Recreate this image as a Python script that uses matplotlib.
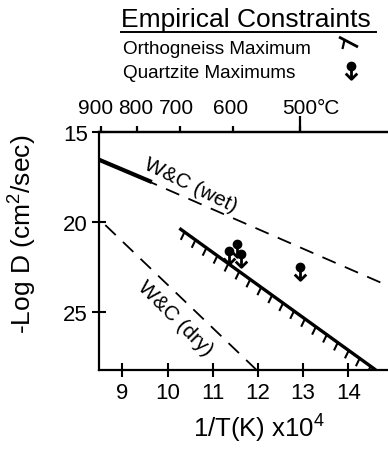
import matplotlib
matplotlib.use('Agg')
import numpy as np
import matplotlib.pyplot as plt
import matplotlib.patheffects as pe
import matplotlib.transforms as mtransforms
from matplotlib.path import Path
from matplotlib.lines import Line2D

plt.rcParams['font.family'] = ['Liberation Sans', 'DejaVu Sans']
plt.rcParams['mathtext.fontset'] = 'custom'
plt.rcParams['mathtext.rm'] = 'Liberation Sans'
plt.rcParams['mathtext.default'] = 'regular'

# ---------------- data ----------------
wet_x = [8.48, 14.88]
wet_y = [16.54, 23.54]
wet_solid_x = [8.48, 9.65]
wet_solid_y = [16.54, 17.78]
dry_x = [8.62, 11.97]
dry_y = [20.17, 28.22]
ortho_x = [10.26, 14.61]
ortho_y = [20.35, 28.22]
qtz_x = [11.35, 11.53, 11.63, 12.93]
qtz_y = [21.60, 21.20, 21.80, 22.50]

bottom_ticks = [9, 10, 11, 12, 13, 14]
left_ticks = [15, 20, 25]
top_ticks_c = [900, 800, 700, 600, 500]
top_labels = ['900', '800', '700', '600', '500']
long_tick_c = 500

# ---------------- figure ----------------
W, H = 388, 452
fig = plt.figure(figsize=(W / 100, H / 100), dpi=100)
ax = fig.add_axes([99 / W, (H - 371) / H, (W - 99) / W, (371 - 133) / H])
ax.set_xlim(8.48, 14.88)
ax.set_ylim(28.22, 15)

for s in ['left', 'bottom', 'top']:
    ax.spines[s].set_linewidth(1.6)
ax.spines['right'].set_visible(False)

ax.set_xticks(bottom_ticks)
ax.set_yticks(left_ticks)
ax.tick_params(axis='x', direction='inout', length=9.5, width=1.5, labelsize=16, pad=4)
ax.tick_params(axis='y', direction='inout', length=10, width=1.5, labelsize=16, pad=3)

def c2x(c):
    return 1e4 / (np.asarray(c, dtype=float) + 273.15)

# top temperature axis (°C) placed through 1/T conversion
top = ax.twiny()
top.set_xlim(ax.get_xlim())
top.set_xticks(c2x(top_ticks_c), top_labels)
top.tick_params(axis='x', direction='out', length=4.5, width=1.6, labelsize=15, pad=6.3,
                color='k')
for s in ['left', 'bottom', 'right']:
    top.spines[s].set_visible(False)
top.spines['top'].set_linewidth(1.6)
label_shift_px = {900: -5, 800: -1, 700: -4, 600: -3, 500: 0}
for c, lab in zip(top_ticks_c, top.xaxis.get_ticklabels()):
    off = mtransforms.ScaledTranslation(label_shift_px[c] / 100, 0, fig.dpi_scale_trans)
    lab.set_transform(lab.get_transform() + off)

# longer tick at 500 °C
x500 = float(c2x(long_tick_c))
top.plot([x500, x500], [1.0, 1.067], color='k', lw=1.6, transform=top.get_xaxis_transform(),
         clip_on=False, solid_capstyle='butt')
top.annotate('°C', xy=(x500, 1), xycoords=('data', 'axes fraction'),
             xytext=(12.2, 10.8), textcoords='offset points', ha='left', va='bottom',
             fontsize=15)

# ---------------- lines ----------------
dash = (0, (8, 5.5))
ax.plot(wet_x, wet_y, color='k', lw=1.3, linestyle=dash)
ax.plot(wet_solid_x, wet_solid_y, color='k', lw=3.0, solid_capstyle='butt')
ax.plot(dry_x, dry_y, color='k', lw=1.3, linestyle=dash)
ax.plot(ortho_x, ortho_y, color='k', lw=2.4, solid_capstyle='butt',
        path_effects=[pe.withTickedStroke(angle=-80, spacing=9.2, length=0.68, linewidth=1.5)])

# quartzite maximum symbols: ball + downward arrow
arrow_path = Path([(0, 0), (0, -1), (-0.45, -0.55), (0, -1), (0.45, -0.55)],
                  [Path.MOVETO, Path.LINETO, Path.MOVETO, Path.LINETO, Path.LINETO])
ax.plot(qtz_x, qtz_y, linestyle='none', marker=arrow_path, markersize=18.5,
        markeredgewidth=2.0, markerfacecolor='none', markeredgecolor='k')
ax.plot(qtz_x, qtz_y, linestyle='none', marker='o', markersize=6,
        markerfacecolor='k', markeredgecolor='k')

# labels on lines
ax.text(10.50, 17.90, 'W&C (wet)', rotation=-26, rotation_mode='anchor',
        ha='center', va='center', fontsize=15)
ax.text(10.17, 25.30, 'W&C (dry)', rotation=-45, rotation_mode='anchor',
        ha='center', va='center', fontsize=15)

# axis labels
fig.text(23 / W, 1 - 234 / H, '-Log D (cm$^{2}$/sec)', rotation=90,
         ha='center', va='center', fontsize=19)
fig.text(259 / W, 1 - 429 / H, '1/T(K) x10$^{4}$', ha='center', va='center', fontsize=18.5)

# ---------------- legend (top) ----------------
fig.text(121 / W, 1 - 27 / H, 'Empirical Constraints', ha='left', va='baseline', fontsize=19)
fig.add_artist(Line2D([121 / W, 376 / W], [1 - 33 / H, 1 - 33 / H], color='k', lw=1.4,
                      transform=fig.transFigure))
fig.text(123 / W, 1 - 54 / H, 'Orthogneiss Maximum', ha='left', va='baseline', fontsize=13.6)
fig.text(123 / W, 1 - 78 / H, 'Quartzite Maximums', ha='left', va='baseline', fontsize=13.6)

fig.add_artist(Line2D([339 / W, 358 / W], [1 - 38 / H, 1 - 48 / H], color='k', lw=2.0,
                      transform=fig.transFigure, solid_capstyle='butt',
                      path_effects=[pe.withTickedStroke(angle=-75, spacing=9, length=0.75,
                                                        linewidth=1.6)]))
fig.add_artist(Line2D([351 / W], [1 - 67 / H], linestyle='none', marker=arrow_path,
                      markersize=18.5, markeredgewidth=2.0, markerfacecolor='none',
                      markeredgecolor='k', transform=fig.transFigure))
fig.add_artist(Line2D([351 / W], [1 - 67 / H], linestyle='none', marker='o',
                      markersize=6, markerfacecolor='k', markeredgecolor='k',
                      transform=fig.transFigure))

fig.savefig('out.png', dpi=100)
